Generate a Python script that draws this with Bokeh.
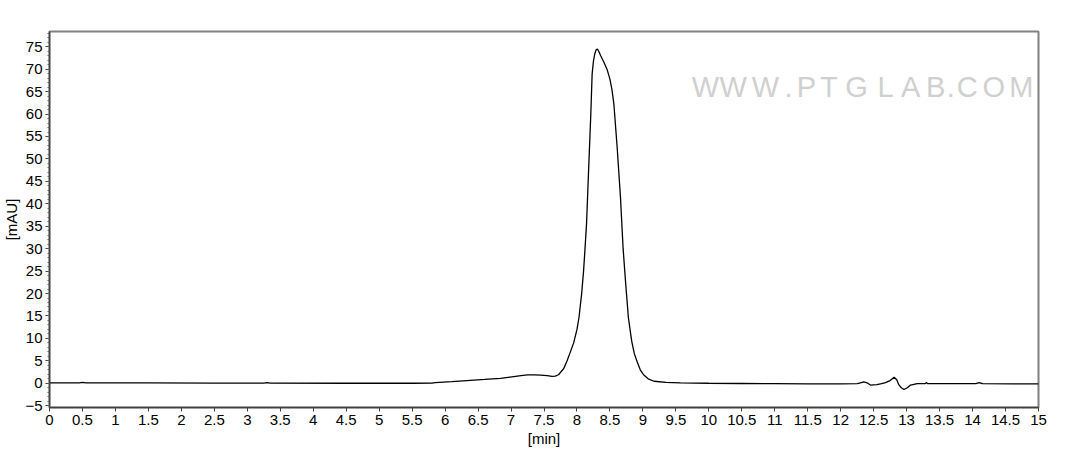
from bokeh.plotting import figure
from bokeh.models import FixedTicker, Range1d, ColumnDataSource
from bokeh.core.properties import value
from bokeh.embed import file_html
from bokeh.resources import INLINE

# retention time [min]
time_min = [0.0, 0.45, 0.5, 0.55, 1.5, 2.5, 3.25, 3.3, 3.35, 4.5, 5.5, 5.8, 5.85, 6.1, 6.33,
            6.6, 6.84, 7.04, 7.15, 7.25, 7.35, 7.45, 7.55, 7.62, 7.67, 7.72, 7.80, 7.85, 7.90,
            7.95, 8.00, 8.03, 8.07, 8.10, 8.12, 8.145, 8.18, 8.21, 8.23, 8.25, 8.27, 8.29, 8.31,
            8.33, 8.36, 8.41, 8.46, 8.50, 8.53, 8.56, 8.61, 8.66, 8.70, 8.74, 8.78, 8.83, 8.87,
            8.91, 8.96, 9.01, 9.08, 9.17, 9.35, 9.57, 10.0, 10.5, 11.0, 11.5, 12.0, 12.25, 12.30,
            12.35, 12.40, 12.45, 12.55, 12.62, 12.68, 12.75, 12.81, 12.85, 12.88, 12.92, 12.96,
            13.01, 13.06, 13.16, 13.28, 13.30, 13.32, 13.6, 14.05, 14.1, 14.15, 14.6, 15.0]

# absorbance [mAU]
signal_mau = [0.1, 0.1, 0.2, 0.1, 0.1, 0.05, 0.05, 0.15, 0.05, 0.0, 0.0, 0.05, 0.15, 0.35, 0.6,
              0.85, 1.1, 1.5, 1.7, 1.85, 1.85, 1.8, 1.7, 1.55, 1.6, 1.9, 3.3, 5.0, 7.0,
              9.0, 12.0, 14.6, 19.8, 25.0, 29.5, 35.5, 48.8, 60.0, 68.9, 71.8, 73.4, 74.3, 74.5,
              74.0, 73.0, 71.5, 69.8, 67.8, 65.5, 62.2, 52.5, 41.4, 30.0, 22.0, 14.6, 9.4, 6.6,
              4.9, 3.0, 1.9, 1.0, 0.45, 0.2, 0.07, 0.0, -0.05, -0.1, -0.15, -0.15, -0.1, 0.1,
              0.3, 0.1, -0.4, -0.3, -0.1, 0.15, 0.6, 1.35, 0.8, -0.3, -1.0, -1.4,
              -1.0, -0.4, -0.1, -0.1, 0.15, -0.1, -0.1, -0.1, 0.15, -0.1, -0.15, -0.15]

x_ticks = [i * 0.5 for i in range(31)]
x_tick_labels = ["0", "0.5", "1", "1.5", "2", "2.5", "3", "3.5", "4", "4.5", "5", "5.5", "6",
                 "6.5", "7", "7.5", "8", "8.5", "9", "9.5", "10", "10.5", "11", "11.5", "12",
                 "12.5", "13", "13.5", "14", "14.5", "15"]
y_ticks = [-5, 0, 5, 10, 15, 20, 25, 30, 35, 40, 45, 50, 55, 60, 65, 70, 75]
y_minor = list(range(-5, 79))

# watermark letters (stretched lettering), centres in chart units
watermark_chars = list("WWW.PTGLAB.COM")
watermark_x = [9.95, 10.37, 10.86, 11.21, 11.48, 11.82, 12.24, 12.68, 13.06, 13.44, 13.67,
               13.92, 14.32, 14.74]
watermark_y = [66.1] * len(watermark_chars)

FONT = "Liberation Sans"

p = figure(width=1071, height=449, output_backend="svg", toolbar_location=None,
           x_range=Range1d(0, 15), y_range=Range1d(-5.4, 78.4),
           min_border_left=0, min_border_right=33, min_border_top=31, min_border_bottom=0,
           background_fill_color="white", border_fill_color="white")
p.grid.visible = False
p.outline_line_color = "#808080"
p.outline_line_width = 2

wm_src = ColumnDataSource(dict(x=watermark_x, y=watermark_y, t=watermark_chars))
p.text(x="x", y="y", text="t", source=wm_src, text_font=value(FONT), text_font_size="29px",
       text_color="#d0d0d0", text_align="center", text_baseline="middle")

p.line(time_min, signal_mau, line_color="black", line_width=1.3)

p.xaxis.ticker = FixedTicker(ticks=x_ticks)
p.xaxis.major_label_overrides = {float(t): s for t, s in zip(x_ticks, x_tick_labels)}
p.yaxis.ticker = FixedTicker(ticks=y_ticks, minor_ticks=y_minor)
p.xaxis.axis_label = "[min]"
p.yaxis.axis_label = "[mAU]"

for ax in (p.xaxis, p.yaxis):
    ax.axis_line_color = "#404040"
    ax.axis_line_width = 1.5
    ax.major_tick_line_color = "#404040"
    ax.major_tick_in = 0
    ax.major_tick_out = 4
    ax.minor_tick_line_color = "#606060"
    ax.minor_tick_in = 0
    ax.minor_tick_out = 2
    ax.major_label_text_font = FONT
    ax.major_label_text_font_size = "15px"
    ax.major_label_text_color = "black"
    ax.axis_label_text_font = FONT
    ax.axis_label_text_font_size = "15px"
    ax.axis_label_text_font_style = "normal"
    ax.axis_label_text_color = "black"
    ax.major_label_standoff = 3
    ax.axis_label_standoff = 2
p.xaxis.minor_tick_line_color = None

open("out.html", "w").write(file_html(p, INLINE))
